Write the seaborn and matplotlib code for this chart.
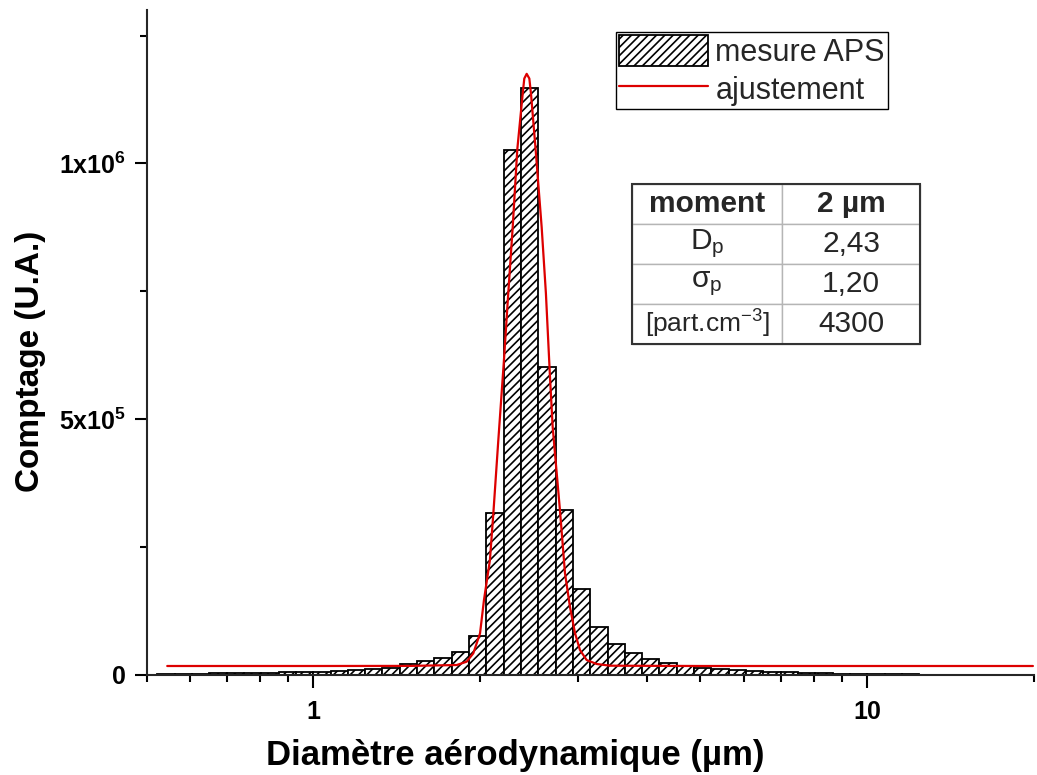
import numpy as np
import pandas as pd
import matplotlib
matplotlib.use("Agg")
import matplotlib.pyplot as plt
import seaborn as sns
from matplotlib.patches import Patch, Rectangle
from matplotlib.lines import Line2D
from matplotlib.ticker import FixedLocator, FixedFormatter, LogLocator, NullFormatter, AutoMinorLocator

# ---------------- data ----------------
diam_um = [0.542, 0.583, 0.626, 0.673, 0.723, 0.777, 0.835, 0.898, 0.965, 1.037,
           1.114, 1.197, 1.286, 1.382, 1.486, 1.596, 1.715, 1.843, 1.981, 2.129,
           2.288, 2.458, 2.642, 2.839, 3.051, 3.278, 3.523, 3.786, 4.068, 4.371,
           4.698, 5.048, 5.425, 5.829, 6.264, 6.732, 7.234, 7.774, 8.354, 8.977,
           9.647, 10.37, 11.14, 11.97, 12.86, 13.82, 14.86, 15.96, 17.15, 18.43, 19.81]
counts = [1500, 2000, 2500, 3000, 3500, 4000, 4500, 5000, 5500, 6500,
          7500, 9000, 11000, 14000, 21000, 27000, 33000, 45000, 76000, 316000,
          1027000, 1148000, 603000, 322000, 168000, 94000, 61000, 43000, 31000, 23000,
          17500, 14000, 11500, 9500, 8000, 6500, 5500, 4500, 3500, 2800,
          2200, 1800, 1400, 1100, 900, 700, 500, 400, 300, 200, 100]

fit_d = [0.545, 1.0, 1.5, 1.815, 1.892, 1.945, 2.000, 2.033, 2.084, 2.114, 2.158,
         2.209, 2.249, 2.291, 2.335, 2.388, 2.404, 2.428, 2.455, 2.472, 2.520,
         2.584, 2.630, 2.675, 2.705, 2.788, 2.847, 2.907, 2.968, 3.030, 3.115,
         3.248, 3.433, 5.0, 10.0, 19.91]
fit_counts = [17600, 17600, 17800, 19500, 26000, 42400, 81400, 146500, 224600, 316400, 459000,
              615200, 746100, 875600, 1027300, 1136100, 1166000, 1175200, 1166000, 1136100, 1027300,
              875600, 746100, 582600, 485000, 322300, 199200, 132800, 82000, 48800, 29300,
              21500, 18200, 17600, 17600, 17600]

yticks = [0, 5e5, 1e6]
ytick_labels = ["0", r"$\mathbf{5x10^{5}}$", r"$\mathbf{1x10^{6}}$"]
xticks = [1, 10]
xtick_labels = ["1", "10"]
legend_labels = ["mesure APS", "ajustement"]
table_rows = [["moment", "2 µm"],
              [r"D$_\mathrm{p}$", "2,43"],
              [r"σ$_\mathrm{p}$", "1,20"],
              [r"[part.cm$^\mathrm{-3}$]", "4300"]]
xlabel = "Diamètre aérodynamique (µm)"
ylabel = "Comptage (U.A.)"

# ---------------- style ----------------
sns.set_theme(style="ticks")
plt.rcParams.update({
    "mathtext.fontset": "custom",
    "mathtext.rm": "Liberation Sans",
    "mathtext.it": "Liberation Sans:italic",
    "mathtext.bf": "Liberation Sans:bold",
    "mathtext.sf": "Liberation Sans",
    "hatch.linewidth": 1.2,
    "axes.linewidth": 1.5,
})
plt.rcParams["font.family"] = ["Liberation Sans", "DejaVu Sans"]

fig = plt.figure(figsize=(10.37, 7.75), dpi=100)
ax = fig.add_axes([146.5 / 1037, 100 / 775, 887.5 / 1037, 665 / 775])

hist_df = pd.DataFrame({"diam": diam_um, "count": counts})
fit_df = pd.DataFrame({"diam": fit_d, "count": fit_counts})

log_mid = np.log10(diam_um)
inner = (log_mid[:-1] + log_mid[1:]) / 2
edges = [float(v) for v in np.concatenate([[log_mid[0] - 1 / 64], inner, [log_mid[-1] + 1 / 64]])]

red = "#dd0000"
sns.histplot(data=hist_df, x="diam", weights="count", bins=edges, log_scale=True, ax=ax,
             color="white", alpha=1, edgecolor="black", linewidth=1.3,
             hatch="////", element="bars", fill=True)
sns.lineplot(data=fit_df, x="diam", y="count", color=red, linewidth=1.6, ax=ax,
             estimator=None, sort=False)

ax.set_xscale("log")
ax.set_xlim(0.5, 20)
ax.set_ylim(0, 1.30e6)

sns.despine(ax=ax)
ax.spines["left"].set_linewidth(1.5)
ax.spines["bottom"].set_linewidth(1.5)

ax.xaxis.set_major_locator(FixedLocator(xticks))
ax.xaxis.set_major_formatter(FixedFormatter(xtick_labels))
ax.xaxis.set_minor_locator(LogLocator(base=10, subs=np.arange(2, 10)))
ax.xaxis.set_minor_formatter(NullFormatter())
ax.yaxis.set_major_locator(FixedLocator(yticks))
ax.yaxis.set_major_formatter(FixedFormatter(ytick_labels))
ax.yaxis.set_minor_locator(AutoMinorLocator(2))

ax.tick_params(axis="both", which="major", direction="out", length=9, width=1.5,
               labelsize=18, color="black", labelcolor="black")
ax.tick_params(axis="both", which="minor", direction="out", length=5, width=1.5, color="black")
ax.tick_params(axis="x", which="major", pad=9)
ax.tick_params(axis="y", which="major", pad=6)
for lab in ax.get_xticklabels() + ax.get_yticklabels():
    lab.set_fontweight("bold")

ax.set_xlabel(xlabel, fontsize=25, fontweight="bold", color="black")
ax.set_ylabel(ylabel, fontsize=24, fontweight="bold", color="black")
ax.xaxis.set_label_coords(0.415, -0.096)
ax.yaxis.set_label_coords(-0.113, 0.472)

# legend
handles = [Patch(facecolor="white", edgecolor="black", hatch="////", linewidth=1.3),
           Line2D([], [], color=red, linewidth=1.6)]
leg = ax.legend(handles, legend_labels, loc="upper left", bbox_to_anchor=(0.529, 0.967),
                frameon=True, fancybox=False, edgecolor="black", framealpha=1,
                fontsize=22, handlelength=2.9, handleheight=1.2, handletextpad=0.25,
                borderpad=0.1, labelspacing=0.15, borderaxespad=0)
leg.get_frame().set_linewidth(1.0)

# table
bbox = [0.547, 0.498, 0.325, 0.240]
tab = ax.table(cellText=table_rows, cellLoc="center", bbox=bbox, colWidths=[0.52, 0.48])
tab.auto_set_font_size(False)
tab.set_fontsize(21.5)
for (r, c), cell in tab.get_celld().items():
    cell.set_edgecolor("#b5b5b5")
    cell.set_linewidth(1.0)
    cell.set_facecolor("white")
    if r == 0:
        cell.get_text().set_fontweight("bold")
tab[3, 0].get_text().set_fontsize(19)
ax.add_patch(Rectangle((bbox[0], bbox[1]), bbox[2], bbox[3], transform=ax.transAxes,
                       fill=False, edgecolor="#333333", linewidth=1.5, zorder=10))

fig.savefig("out.png", dpi=100)
